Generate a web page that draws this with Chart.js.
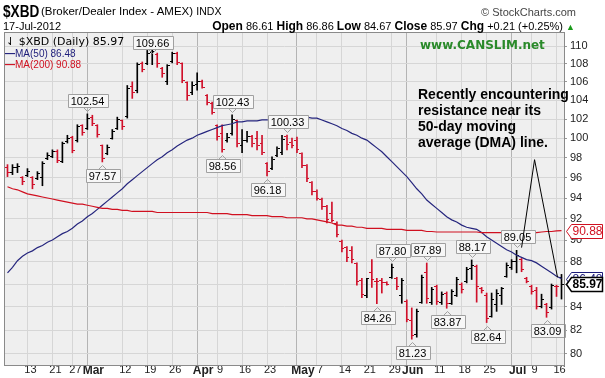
<!DOCTYPE html>
<html lang="en">
<head>
<meta charset="UTF-8">
<title>$XBD Daily</title>
<script src="https://cdn.jsdelivr.net/npm/chart.js"></script>
<style>
  body { margin: 0; background: #fff; font-family: "Liberation Sans", Arial, sans-serif; }
  #wrap { position: relative; width: 605px; height: 378px; overflow: hidden; }
  #wrap canvas { position: absolute; left: 0; top: 0; }
  .t { position: absolute; white-space: nowrap; color: #000; z-index: 2; }
</style>
</head>
<body>
<div id="wrap">
  <canvas id="chart" width="605" height="378"></canvas>

  <!-- header -->
  <div class="t" style="left:3px; top:2px; font-size:17px; font-weight:bold; transform:scaleX(0.8); transform-origin:left top;">$XBD</div>
  <div class="t" style="left:41px; top:5px; font-size:11.5px;">(Broker/Dealer Index - AMEX) <span style="font-size:10.5px;">INDX</span></div>
  <div class="t" style="right:29px; top:6px; font-size:11px; color:#444;">© StockCharts.com</div>
  <div class="t" style="left:3px; top:20px; font-size:11px;">17-Jul-2012</div>
  <div class="t" style="right:30px; top:19px; font-size:11px;"><b style="font-size:12px">Open</b> 86.61 <b style="font-size:12px">High</b> 86.86 <b style="font-size:12px">Low</b> 84.67 <b style="font-size:12px">Close</b> 85.97 <b style="font-size:12px">Chg</b> +0.21 (+0.25%) <span style="color:#1a9a1a; font-size:9px;">▲</span></div>

  <!-- legend -->
  <div class="t" style="left:6px; top:35px; font-size:11px; font-family:'DejaVu Sans';">⇃ $XBD (Daily) 85.97</div>
  <div class="t" style="left:5px; top:48px; font-size:10px; color:#1c1c7a;"><b>—</b>MA(50) 86.48</div>
  <div class="t" style="left:5px; top:59px; font-size:10px; color:#d01020;"><b>—</b>MA(200) 90.88</div>

  <div class="t" style="left:420px; top:38px; font-size:12px; font-weight:bold; color:#2a8a2a; font-family:'DejaVu Sans';">www.CANSLIM.net</div>

  <div class="t" style="left:418px; top:86px; font-size:14px; font-weight:bold; line-height:16px;">
    Recently encountering<br>resistance near its<br>50-day moving<br>average (DMA) line.
  </div>
</div>

<script>
// trading days shown on the chart (2012)
const dates = [
  'Feb 7','Feb 8','Feb 9','Feb 10','Feb 13','Feb 14','Feb 15','Feb 16','Feb 17','Feb 21',
  'Feb 22','Feb 23','Feb 24','Feb 27','Feb 28','Feb 29','Mar 1','Mar 2','Mar 5','Mar 6',
  'Mar 7','Mar 8','Mar 9','Mar 12','Mar 13','Mar 14','Mar 15','Mar 16','Mar 19','Mar 20',
  'Mar 21','Mar 22','Mar 23','Mar 26','Mar 27','Mar 28','Mar 29','Mar 30','Apr 2','Apr 3',
  'Apr 4','Apr 5','Apr 9','Apr 10','Apr 11','Apr 12','Apr 13','Apr 16','Apr 17','Apr 18',
  'Apr 19','Apr 20','Apr 23','Apr 24','Apr 25','Apr 26','Apr 27','Apr 30','May 1','May 2',
  'May 3','May 4','May 7','May 8','May 9','May 10','May 11','May 14','May 15','May 16',
  'May 17','May 18','May 21','May 22','May 23','May 24','May 25','May 29','May 30','May 31',
  'Jun 1','Jun 4','Jun 5','Jun 6','Jun 7','Jun 8','Jun 11','Jun 12','Jun 13','Jun 14',
  'Jun 15','Jun 18','Jun 19','Jun 20','Jun 21','Jun 22','Jun 25','Jun 26','Jun 27','Jun 28',
  'Jun 29','Jul 2','Jul 3','Jul 5','Jul 6','Jul 9','Jul 10','Jul 11','Jul 12','Jul 13',
  'Jul 16','Jul 17'
];

const opens = [
  97.0, 96.5, 97.0, 96.0, 96.2, 96.0, 95.9, 96.0, 97.9, 98.1,
  98.6, 97.6, 99.7, 100.1, 99.8, 101.3, 101.0, 102.2, 101.3, 99.2,
  98.4, 100.0, 101.0, 101.8, 102.3, 105.5, 105.0, 108.0, 108.0, 109.3,
  109.0, 107.5, 106.0, 108.2, 109.1, 108.0, 105.9, 104.8, 105.7, 106.0,
  104.5, 103.6, 101.3, 100.5, 99.8, 100.5, 101.8, 99.2, 99.8, 100.2,
  100.0, 99.5, 97.4, 96.9, 98.2, 98.5, 100.2, 99.6, 99.8, 98.4,
  97.2, 95.5, 94.6, 93.9, 93.2, 92.5, 91.6, 89.9, 89.3, 89.0,
  87.8, 86.3, 85.0, 87.0, 86.2, 86.3, 86.1, 86.6, 86.5, 85.0,
  84.5, 82.8, 81.6, 84.4, 87.0, 84.4, 85.8, 84.4, 85.2, 84.3,
  85.0, 86.0, 86.2, 87.4, 87.6, 85.6, 85.0, 83.2, 84.2, 85.0,
  86.7, 87.5, 88.0, 88.2, 86.5, 85.8, 85.4, 84.0, 84.2, 83.9,
  85.8, 86.61
];
const highs = [
  97.3, 97.3, 97.4, 96.1, 96.9, 96.1, 96.6, 97.6, 98.5, 98.8,
  98.8, 99.6, 100.3, 100.2, 101.4, 101.4, 102.54, 102.4, 101.4, 99.3,
  99.3, 100.9, 102.2, 101.9, 105.6, 106.0, 108.1, 108.2, 109.5, 109.66,
  109.2, 107.6, 107.9, 109.3, 109.3, 108.1, 106.0, 106.0, 107.0, 106.2,
  104.6, 103.8, 101.4, 101.4, 100.5, 102.43, 101.9, 100.9, 100.7, 100.3,
  100.7, 100.3, 97.5, 98.1, 99.1, 100.3, 100.33, 100.0, 100.1, 98.5,
  97.3, 95.6, 94.8, 94.0, 93.3, 93.6, 91.7, 90.0, 89.4, 89.4,
  87.9, 86.5, 86.5, 88.2, 86.5, 86.5, 86.2, 87.80, 86.6, 86.5,
  84.6, 83.9, 83.8, 86.8, 87.89, 85.7, 85.9, 85.3, 85.3, 85.5,
  86.6, 86.1, 87.5, 88.17, 87.7, 85.7, 85.2, 85.2, 85.5, 85.7,
  87.9, 88.2, 89.05, 88.3, 86.6, 85.9, 85.7, 85.1, 84.3, 86.0,
  85.9, 86.86
];
const lows = [
  96.1, 96.3, 96.5, 95.3, 96.1, 94.9, 95.8, 95.2, 97.8, 98.0,
  97.5, 97.5, 99.5, 98.5, 99.6, 100.3, 100.9, 101.3, 100.1, 97.57,
  98.3, 99.9, 100.9, 100.9, 102.1, 104.2, 104.8, 107.1, 107.9, 107.9,
  107.6, 106.5, 105.7, 108.1, 107.9, 105.9, 104.0, 104.6, 105.1, 105.3,
  103.5, 102.5, 99.8, 98.56, 99.6, 100.3, 99.1, 98.5, 99.6, 99.1,
  98.8, 98.3, 96.18, 96.8, 98.1, 98.3, 98.8, 99.0, 98.5, 97.0,
  95.6, 94.3, 93.8, 92.9, 91.6, 91.7, 90.3, 88.9, 88.0, 87.9,
  85.9, 84.8, 84.8, 85.7, 84.26, 85.2, 85.9, 86.5, 85.5, 84.3,
  82.7, 81.23, 81.4, 84.3, 84.3, 84.2, 84.2, 84.2, 83.87, 84.2,
  84.9, 85.2, 86.1, 86.4, 84.4, 85.2, 82.64, 83.1, 83.6, 84.2,
  86.6, 87.3, 87.0, 87.1, 86.1, 85.1, 83.8, 83.9, 83.09, 83.8,
  84.9, 84.67
];
const closes = [
  96.5, 97.0, 97.1, 95.6, 96.6, 95.3, 96.4, 97.4, 98.2, 98.6,
  97.7, 99.5, 100.0, 98.7, 101.2, 100.6, 102.1, 101.5, 100.4, 97.9,
  99.0, 100.7, 101.9, 101.2, 105.3, 104.8, 107.9, 107.4, 109.2, 109.4,
  108.0, 106.9, 107.8, 109.2, 108.1, 106.2, 104.5, 105.6, 106.0, 105.4,
  103.8, 102.7, 100.2, 98.8, 100.1, 102.0, 99.4, 99.8, 100.2, 99.4,
  99.2, 98.5, 96.6, 97.8, 98.9, 99.9, 99.3, 99.2, 98.8, 97.2,
  95.9, 94.6, 94.0, 93.2, 91.9, 91.8, 90.5, 89.2, 88.4, 88.2,
  86.2, 85.1, 86.45, 86.4, 86.2, 86.1, 85.95, 87.5, 85.8, 86.3,
  82.9, 81.5, 83.6, 86.6, 84.7, 85.5, 84.5, 85.1, 84.3, 85.3,
  86.4, 85.5, 87.3, 87.7, 85.8, 85.4, 83.0, 84.6, 85.2, 85.6,
  87.7, 88.0, 88.6, 87.3, 86.2, 85.3, 84.0, 84.6, 83.5, 85.9,
  85.76, 85.97
];

const ma50 = [
  87.0, 87.5, 88.1, 88.5, 88.8, 89.0, 89.3, 89.5, 89.8, 90.0,
  90.3, 90.6, 90.8, 91.1, 91.5, 91.8, 92.2, 92.5, 92.9, 93.3,
  93.7, 94.1, 94.5, 94.9, 95.4, 95.8, 96.2, 96.6, 97.0, 97.4,
  97.8, 98.1, 98.5, 98.8, 99.2, 99.5, 99.8, 100.0, 100.3, 100.5,
  100.7, 100.9, 101.1, 101.3, 101.4, 101.5, 101.7, 101.7, 101.8, 101.8,
  101.8, 101.9, 101.9, 102.0, 102.0, 102.1, 102.2, 102.2, 102.2, 102.2,
  102.2, 102.1, 102.1, 101.9, 101.7, 101.5, 101.3, 101.0, 100.8, 100.5,
  100.3, 100.0, 99.8, 99.4, 99.0, 98.6, 98.1, 97.6, 97.1, 96.6,
  96.1, 95.5, 94.9, 94.4, 93.8, 93.4, 93.0, 92.6, 92.2, 91.9,
  91.7, 91.4, 91.2, 91.1, 91.0, 90.7, 90.3, 90.0, 89.7, 89.4,
  89.1, 88.9, 88.6, 88.4, 88.2, 88.1, 87.9, 87.6, 87.3, 87.0,
  86.7, 86.48
];
const ma200 = [
  95.1, 94.9, 94.8, 94.6, 94.4, 94.3, 94.2, 94.1, 94.0, 93.9,
  93.8, 93.7, 93.6, 93.5, 93.4, 93.4, 93.3, 93.2, 93.1, 93.0,
  93.0, 92.9, 92.9, 92.8, 92.8, 92.7, 92.7, 92.7, 92.7, 92.7,
  92.6, 92.6, 92.6, 92.6, 92.6, 92.6, 92.6, 92.6, 92.6, 92.6,
  92.6, 92.5, 92.5, 92.5, 92.5, 92.4, 92.4, 92.4, 92.4, 92.3,
  92.3, 92.3, 92.3, 92.2, 92.2, 92.2, 92.1, 92.1, 92.1, 92.1,
  92.0, 92.0, 91.9, 91.8, 91.7, 91.6, 91.4, 91.4, 91.3, 91.3,
  91.2, 91.2, 91.1, 91.1, 91.1, 91.1, 91.0, 91.0, 91.0, 91.0,
  90.9, 90.9, 90.9, 90.9, 90.8, 90.8, 90.75, 90.75, 90.75, 90.75,
  90.75, 90.75, 90.75, 90.75, 90.75, 90.7, 90.7, 90.7, 90.7, 90.7,
  90.7, 90.7, 90.7, 90.7, 90.7, 90.7, 90.7, 90.75, 90.8, 90.8,
  90.85, 90.88
];

// axis ticks
const yTicks = [80, 82, 84, 86, 88, 90, 92, 94, 96, 98, 100, 102, 104, 106, 108, 110];
const tickDates = ['Feb 13','Feb 21','Feb 27','Mar 1','Mar 12','Mar 19','Mar 26','Apr 2','Apr 9','Apr 16','Apr 23',
                   'May 1','May 7','May 14','May 21','May 29','Jun 1','Jun 11','Jun 18','Jun 25','Jul 2','Jul 9','Jul 16'];
const tickText = ['13','21','27','Mar','12','19','26','Apr','9','16','23',
                  'May','7','14','21','29','Jun','11','18','25','Jul','9','16'];
const monthText = ['Mar','Apr','May','Jun','Jul'];

// price callouts on highs/lows
const calloutDates = ['Mar 20','Mar 1','Mar 6','Apr 12','Apr 10','Apr 27','Apr 23','May 29','May 23',
                      'Jun 7','Jun 13','Jun 20','Jun 25','Jul 3','Jun 4','Jul 12'];
const calloutVals = [109.66, 102.54, 97.57, 102.43, 98.56, 100.33, 96.18, 87.80, 84.26,
                     87.89, 83.87, 88.17, 82.64, 89.05, 81.23, 83.09];
const calloutSide = ['hi','hi','lo','hi','lo','hi','lo','hi','lo','hi','lo','hi','lo','hi','lo','lo'];

// the hand-drawn pointer under the comment
const pointerPos = [103, 105.6, 110.2];
const pointerVals = [89.3, 97.8, 86.6];

const RED = '#d0102a';
const BLACK = '#000000';
const barColors = closes.map((c, i) => c < (i ? closes[i - 1] : opens[i]) ? RED : BLACK);

// small open / close ticks
function tickMark(color, side) {
    const c = document.createElement('canvas');
    c.width = 7; c.height = 1;
    const g = c.getContext('2d');
    g.fillStyle = color;
    g.fillRect(side === 'open' ? 1 : 4, 0, 2, 1);
    return c;
}
const marks = {
    open: { [RED]: tickMark(RED, 'open'), [BLACK]: tickMark(BLACK, 'open') },
    close: { [RED]: tickMark(RED, 'close'), [BLACK]: tickMark(BLACK, 'close') }
};

const tickIdx = tickDates.map(d => dates.indexOf(d));
const isMonth = v => monthText.includes(tickText[tickIdx.indexOf(v)]);

const plotBg = {
    id: 'plotBg',
    beforeDraw(chart) {
        const { ctx, chartArea: a } = chart;
        ctx.save();
        ctx.fillStyle = '#efefef';
        ctx.fillRect(a.left, a.top, a.right - a.left, a.bottom - a.top);
        ctx.restore();
    },
    beforeDatasetsDraw(chart) {
        chart.ctx.imageSmoothingEnabled = false;
    },
    afterDraw(chart) {
        const { ctx, chartArea: a } = chart;
        ctx.save();
        ctx.strokeStyle = '#8a8a8a';
        ctx.lineWidth = 1;
        ctx.strokeRect(a.left - 0.5, a.top - 0.5, a.right - a.left + 1, a.bottom - a.top + 1);
        ctx.restore();
    }
};

const callouts = {
    id: 'callouts',
    afterDatasetsDraw(chart) {
        const { ctx, chartArea: a } = chart;
        const x = chart.scales.x, y = chart.scales.y;
        ctx.save();
        ctx.font = '11px "Liberation Sans"';
        ctx.textAlign = 'center';
        ctx.textBaseline = 'middle';
        calloutDates.forEach((d, k) => {
            const px = Math.round(x.getPixelForValue(dates.indexOf(d))) + 0.5;
            const py = y.getPixelForValue(calloutVals[k]);
            const txt = calloutVals[k].toFixed(2);
            const w = Math.round(ctx.measureText(txt).width) + 6, h = 13;
            let top;
            if (calloutSide[k] === 'hi') top = Math.max(a.top + 3, py - 7 - h);
            else top = py + 7;
            top = Math.round(top) + 0.5;
            const left = Math.round(px - w / 2) + 0.5;
            ctx.fillStyle = '#f7f7f7';
            ctx.strokeStyle = '#a0a0a0';
            ctx.lineWidth = 1;
            ctx.beginPath();
            ctx.rect(left, top, w, h);
            ctx.fill(); ctx.stroke();
            // little pointer
            ctx.beginPath();
            if (calloutSide[k] === 'hi') {
                ctx.moveTo(px - 4, top + h); ctx.lineTo(px, top + h + 4); ctx.lineTo(px + 4, top + h);
            } else {
                ctx.moveTo(px - 4, top); ctx.lineTo(px, top - 4); ctx.lineTo(px + 4, top);
            }
            ctx.stroke();
            ctx.fillStyle = '#000';
            ctx.fillText(txt, px, top + h / 2 + 0.5);
        });

        // comment pointer
        ctx.strokeStyle = '#000';
        ctx.lineWidth = 1;
        ctx.beginPath();
        pointerPos.forEach((p, k) => {
            const px = x.getPixelForValue(p), py = y.getPixelForValue(pointerVals[k]);
            if (k === 0) ctx.moveTo(px, py); else ctx.lineTo(px, py);
        });
        ctx.stroke();
        ctx.restore();
    },
    afterDraw(chart) {
        // last-value tags on the right axis
        const { ctx, chartArea: a } = chart;
        const y = chart.scales.y;
        const tags = [
            { v: ma200[ma200.length - 1], c: '#d01020', bold: false },
            { v: ma50[ma50.length - 1], c: '#1c1c7a', bold: false },
            { v: closes[closes.length - 1], c: '#000', bold: true }
        ];
        ctx.save();
        ctx.textBaseline = 'middle';
        ctx.textAlign = 'left';
        tags.forEach(t => {
            const py = Math.round(y.getPixelForValue(t.v)) + 0.5;
            const x0 = a.right + 2.5, w = 36, h = 14;
            ctx.font = (t.bold ? 'bold 12px' : '12px') + ' "Liberation Sans"';
            ctx.beginPath();
            ctx.moveTo(x0, py);
            ctx.lineTo(x0 + 5, py - h / 2);
            ctx.lineTo(x0 + w, py - h / 2);
            ctx.lineTo(x0 + w, py + h / 2);
            ctx.lineTo(x0 + 5, py + h / 2);
            ctx.closePath();
            ctx.fillStyle = '#fff';
            ctx.fill();
            ctx.strokeStyle = t.c;
            ctx.lineWidth = t.bold ? 1.5 : 1;
            ctx.stroke();
            ctx.fillStyle = t.c;
            ctx.fillText(t.v.toFixed(2), x0 + 6, py + 0.5);
        });
        ctx.restore();
    }
};

new Chart(document.getElementById('chart'), {
    data: {
        labels: dates,
        datasets: [
            {
                type: 'line', label: 'MA(200)', data: ma200,
                borderColor: '#d01020', borderWidth: 1.2, pointRadius: 0, tension: 0, order: 1
            },
            {
                type: 'line', label: 'MA(50)', data: ma50,
                borderColor: '#26267e', borderWidth: 1.2, pointRadius: 0, tension: 0, order: 1
            },
            {
                type: 'bar', label: 'High-Low', data: lows.map((l, i) => [l, highs[i]]),
                backgroundColor: barColors, barThickness: 1, order: 3
            },
            {
                type: 'line', label: 'Open', data: opens, showLine: false,
                pointStyle: barColors.map(c => marks.open[c]), pointRadius: 1, order: 2
            },
            {
                type: 'line', label: 'Close', data: closes, showLine: false,
                pointStyle: barColors.map(c => marks.close[c]), pointRadius: 1, order: 2
            }
        ]
    },
    options: {
        responsive: false,
        animation: false,
        events: [],
        layout: { padding: { top: 33, left: 4, right: 0, bottom: 0 } },
        plugins: { legend: { display: false }, tooltip: { enabled: false } },
        scales: {
            x: {
                type: 'category',
                offset: true,
                afterBuildTicks: s => { s.ticks = tickIdx.map(v => ({ value: v })); },
                afterFit: s => { s.height = 13; },
                grid: {
                    offset: false,
                    drawTicks: false,
                    color: c => isMonth(c.tick && c.tick.value) ? '#b4b4b4' : '#d6d6d6'
                },
                border: { display: false },
                ticks: {
                    autoSkip: false, maxRotation: 0, padding: -2, color: '#222',
                    labelOffset: 3,
                    // month names sit just right of their grid line
                    callback: v => (isMonth(v) ? '\u2002' : '') + tickText[tickIdx.indexOf(v)],
                    font: c => isMonth(c.tick && c.tick.value)
                        ? { family: 'Liberation Sans', size: 12, weight: 'bold' }
                        : { family: 'Liberation Sans', size: 11 }
                }
            },
            y: {
                type: 'logarithmic',
                position: 'right',
                min: 79.09,
                max: 111.49,
                bounds: 'data',
                afterBuildTicks: s => { s.ticks = yTicks.map(v => ({ value: v })); },
                afterFit: s => { s.width = 41; },
                grid: { color: '#d6d6d6', drawTicks: true, tickLength: 3, tickColor: '#999' },
                border: { display: false },
                ticks: {
                    padding: 3, color: '#222',
                    font: { family: 'Liberation Sans', size: 11 },
                    callback: v => String(v)
                }
            }
        }
    },
    plugins: [plotBg, callouts]
});
</script>
</body>
</html>
